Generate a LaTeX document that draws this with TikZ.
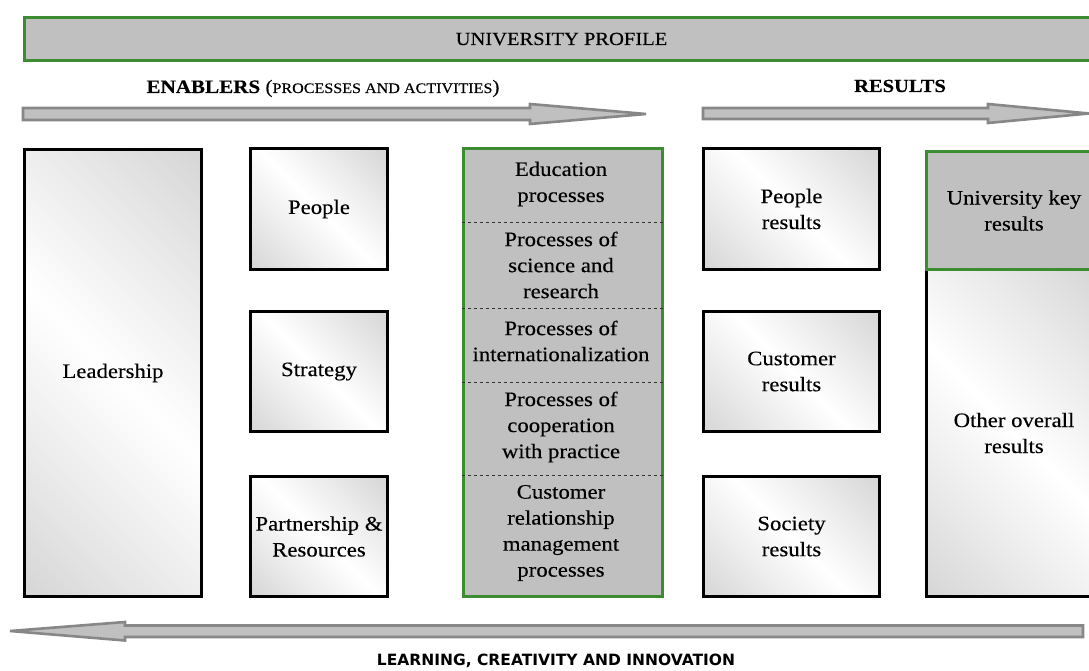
\documentclass[tikz,border=0pt]{standalone}
\usepackage{fontspec}
\setmainfont{Liberation Serif}[FakeStretch=1.11, FakeBold=0.3]
\newfontfamily\footsans{DejaVu Sans}
\usetikzlibrary{calc}

\definecolor{frameGreen}{HTML}{3C8C32}
\definecolor{panelGray}{HTML}{C0C0C0}
\definecolor{arrowEdge}{HTML}{878787}
\definecolor{shadeGray}{HTML}{C4C4C4}

% soft grey at two opposite corners, white across the middle
\pgfdeclareverticalshading{cornerfade}{100bp}{%
  color(0bp)=(shadeGray); color(32bp)=(white!92!black); color(50bp)=(white);
  color(68bp)=(white!92!black); color(100bp)=(shadeGray)}

\tikzset{
  bodytext/.style={font=\fontsize{20.5}{26}\selectfont, align=center},
  shadedbox/.style={draw=black, line width=3pt, anchor=north west,
    shading=cornerfade, shading angle=-45, bodytext, inner sep=0pt},
  greenbox/.style={draw=frameGreen, line width=3pt, fill=panelGray,
    anchor=north west, bodytext, inner sep=0pt},
  flowarrow/.style={draw=arrowEdge, fill=panelGray, line width=2.6pt, line join=miter},
  divider/.style={draw=black!80, dashed, line width=0.6pt},
}

\begin{document}
\begin{tikzpicture}[x=1pt, y=-1pt]
  \clip (0,0) rectangle (1089,671);

  % profile banner
  \node[greenbox, minimum width=1074, minimum height=43] (profile) at (23,16) {};
  \node[font=\fontsize{18.5}{20}\selectfont] (profiletxt) at (profile.center) {UNIVERSITY PROFILE};

  % headings
  \node[anchor=base] (enablers) at (323,93)
    {\fontsize{19}{22}\selectfont\textbf{ENABLERS} (\fontsize{14.5}{22}\selectfont PROCESSES AND ACTIVITIES\fontsize{19}{22}\selectfont)};
  \node[anchor=base, font=\fontsize{18.5}{22}\selectfont\bfseries] (results) at (900,92) {RESULTS};

  % direction arrows
  \draw[flowarrow] (23,108) -- (530,108) -- (530,104) -- (646,114)
    -- (530,124) -- (530,120) -- (23,120) -- cycle;
  \draw[flowarrow] (703,108) -- (988,108) -- (988,104) -- (1089,113.5)
    -- (988,123) -- (988,119) -- (703,119) -- cycle;
  \draw[flowarrow] (1083,625.5) -- (125,625.5) -- (125,622) -- (10,631)
    -- (125,640.5) -- (125,637) -- (1083,637) -- cycle;
  \node[font=\footsans\bfseries\fontsize{15.5}{17}\selectfont] (learning) at (556,661)
    {LEARNING, CREATIVITY AND INNOVATION};

  % enablers
  \node[shadedbox, minimum width=177, minimum height=447] (lead) at (23,148) {Leadership};
  \node[shadedbox, minimum width=137, minimum height=121] (people) at (249,147) {People};
  \node[shadedbox, minimum width=137, minimum height=120] (strategy) at (249,310) {Strategy};
  \node[shadedbox, minimum width=137, minimum height=120] (partner) at (249,475) {Partnership \&\\Resources};

  % process column
  \node[greenbox, minimum width=199, minimum height=448] (proc) at (462,147) {};
  \foreach \n/\y in {d1/222, d2/308, d3/382, d4/475}
    \coordinate (\n) at (0,\y);
  \foreach \n in {d1,d2,d3,d4}
    \draw[divider] (proc.west |- \n) -- (proc.east |- \n);
  \node[bodytext] (edu)   at (561,184) {Education\\processes};
  \node[bodytext] (sci)   at (561,265) {Processes of\\science and\\research};
  \node[bodytext] (intl)  at (561,341) {Processes of\\internationalization};
  \node[bodytext] (coop)  at (561,427) {Processes of\\cooperation\\with practice};
  \node[bodytext] (crm)   at (561,533) {Customer\\relationship\\management\\processes};

  % results
  \node[shadedbox, minimum width=176, minimum height=121] (presults) at (702,147) {People\\results};
  \node[shadedbox, minimum width=176, minimum height=120] (cresults) at (702,310) {Customer\\results};
  \node[shadedbox, minimum width=176, minimum height=120] (sresults) at (702,475) {Society\\results};

  \node[shadedbox, minimum width=175, minimum height=327] (other) at (925,268) {Other overall\\results};
  \node[greenbox, minimum width=175, minimum height=118] (key) at (925,150) {University key\\results};
\end{tikzpicture}
\end{document}
